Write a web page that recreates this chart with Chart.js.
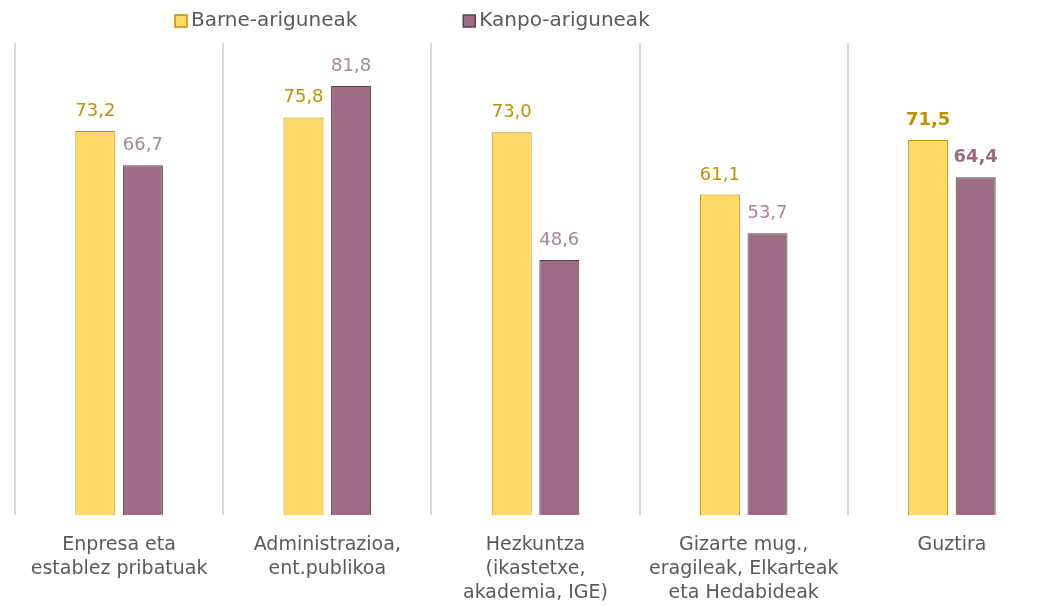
<!DOCTYPE html>
<html>
<head>
<meta charset="utf-8">
<script src="https://cdn.jsdelivr.net/npm/chart.js@4.4.1/dist/chart.umd.min.js"></script>
<style>
    html, body { margin: 0; padding: 0; background: #fff; overflow: hidden; }
    #wrap { width: 1064px; height: 606px; }
</style>
</head>
<body>
<div id="wrap"><canvas id="barChart" width="1064" height="606"></canvas></div>
<script>
const categories = [
    ['Enpresa eta', 'establez pribatuak'],
    ['Administrazioa,', 'ent.publikoa'],
    ['Hezkuntza', '(ikastetxe,', 'akademia, IGE)'],
    ['Gizarte mug.,', 'eragileak, Elkarteak', 'eta Hedabideak'],
    ['Guztira']
];
const barneValues = [73.2, 75.8, 73.0, 61.1, 71.5];
const kanpoValues = [66.7, 81.8, 48.6, 53.7, 64.4];
const seriesNames = ['Barne-ariguneak', 'Kanpo-ariguneak'];

const FONT = "'DejaVu Sans', sans-serif";
const GREY = '#595959';

// etiketak barren gainean (azken kategoria lodiz)
const barLabels = {
    id: 'barLabels',
    afterDatasetsDraw(chart) {
        const ctx = chart.ctx;
        ctx.save();
        ctx.textAlign = 'center';
        ctx.textBaseline = 'alphabetic';
        chart.data.datasets.forEach((ds, i) => {
            const meta = chart.getDatasetMeta(i);
            meta.data.forEach((bar, j) => {
                const last = j === ds.data.length - 1;
                ctx.font = (last ? 'bold ' : '') + '18px ' + FONT;
                ctx.fillStyle = last ? ds.labelBold : ds.labelColor;
                ctx.fillText(ds.data[j].toFixed(1).replace('.', ','), bar.x, bar.y - 15);
            });
        });
        ctx.restore();
    }
};

// legenda goian
const topLegend = {
    id: 'topLegend',
    afterDraw(chart, args, opts) {
        const ctx = chart.ctx;
        ctx.save();
        ctx.font = '20px ' + FONT;
        ctx.textBaseline = 'middle';
        let x = opts.x;
        chart.data.datasets.forEach(ds => {
            ctx.fillStyle = ds.backgroundColor;
            ctx.strokeStyle = ds.borderColor;
            ctx.lineWidth = 1.5;
            ctx.fillRect(x, opts.y - 6, 12, 12);
            ctx.strokeRect(x, opts.y - 6, 12, 12);
            ctx.fillStyle = GREY;
            ctx.textAlign = 'left';
            ctx.fillText(ds.label, x + 16, opts.y);
            x += 16 + ctx.measureText(ds.label).width + opts.gap;
        });
        ctx.restore();
    }
};

const ctx = document.getElementById('barChart').getContext('2d');
new Chart(ctx, {
    type: 'bar',
    data: {
        labels: categories,
        datasets: [{
            label: seriesNames[0],
            data: barneValues,
            backgroundColor: '#FFD966',
            borderColor: '#BF9000',
            borderWidth: 1,
            labelColor: '#BF9000',
            labelBold: '#BF9000'
        }, {
            label: seriesNames[1],
            data: kanpoValues,
            backgroundColor: '#9E6B84',
            borderColor: '#5E3F50',
            borderWidth: 1,
            labelColor: '#A8849A',
            labelBold: '#9E6B84'
        }]
    },
    options: {
        responsive: false,
        animation: false,
        categoryPercentage: 0.457,
        barPercentage: 0.84,
        layout: { padding: { left: 15, right: 8, top: 43, bottom: 0 } },
        plugins: {
            legend: { display: false },
            tooltip: { enabled: false },
            topLegend: { x: 175, y: 21, gap: 106 }
        },
        scales: {
            x: {
                grid: { display: true, offset: true, color: '#D9D9D9', lineWidth: 2, drawTicks: false },
                border: { display: false },
                ticks: {
                    color: GREY,
                    padding: 18,
                    maxRotation: 0,
                    autoSkip: false,
                    font: { family: FONT, size: 19, lineHeight: 1.26 }
                },
                afterFit(scale) { scale.height = 91; }
            },
            y: {
                display: false,
                min: 0,
                max: 90
            }
        }
    },
    plugins: [barLabels, topLegend]
});
</script>
</body>
</html>
